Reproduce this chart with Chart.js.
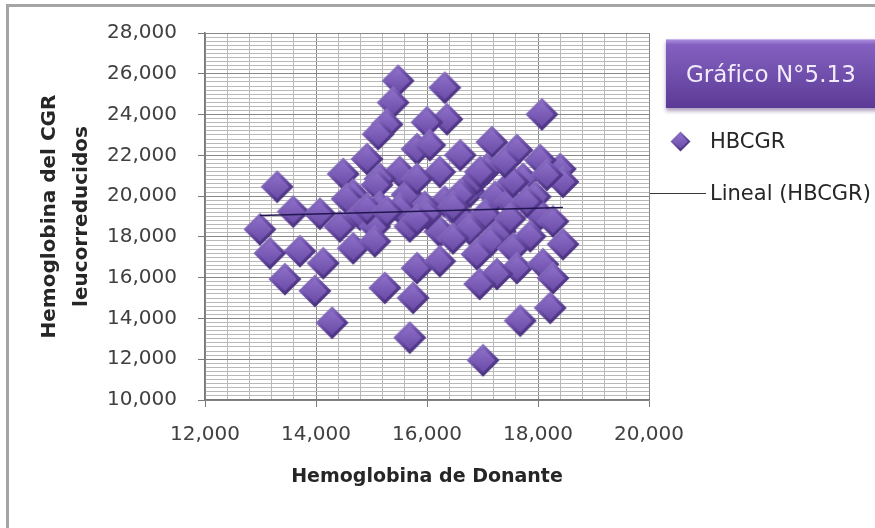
<!DOCTYPE html>
<html lang="es">
<head>
<meta charset="utf-8">
<title>Gráfico N°5.13</title>
<script src="https://cdn.jsdelivr.net/npm/chart.js@4.4.1/dist/chart.umd.min.js"></script>
<style>
  html, body { margin: 0; padding: 0; background: #fff; }
  #wrap { position: relative; width: 875px; height: 528px; overflow: hidden; font-family: "DejaVu Sans", sans-serif; }
  #marco { position: absolute; left: 6px; top: 4px; width: 920px; height: 620px; border: 3px solid #a5a5a5; }
  #grafico { position: absolute; left: 0; top: 0; }
  .titulo {
    position: absolute; left: 666px; top: 39px; width: 240px; height: 69px; box-sizing: border-box;
    padding-left: 20px; line-height: 68px; font-size: 23px; color: #f2ebfb;
    background: linear-gradient(#a88bdc 0, #8460c0 7%, #7150ad 50%, #5c3995 100%);
    border-top: 1px solid #c7b2ea; box-shadow: 0 3px 4px rgba(70, 40, 110, .45);
  }
  .item { position: absolute; font-size: 21px; color: #262626; white-space: nowrap; line-height: 24px; }
  .raya { position: absolute; height: 0; border-top: 1.5px solid #3a3a3a; }
</style>
</head>
<body>
<div id="wrap">
  <div id="marco"></div>
  <canvas id="grafico" width="875" height="528"></canvas>
  <div class="titulo">Gráfico N°5.13</div>
  <div id="leyenda"></div>
</div>
<script>
// === Datos: hemoglobina de donante vs. hemoglobina del CGR leucorreducido ===
const hbDonante = [
  15480, 15390, 16320, 18070, 16360, 16000, 15280, 15120, 15820, 17170,
  17620, 16600, 14920, 16050, 14490, 15510, 16230, 17080, 18400, 18040,
  15150, 17730, 14670, 15100, 15640, 13300, 18450, 16770, 17230, 17500,
  16320, 15960, 17950, 15150, 15510, 13590, 14070, 14560, 14790, 16600,
  17050, 18040, 18270, 12990, 14430, 15060, 15690, 16230, 16770, 17320,
  17860, 16000, 16470, 17140, 17550, 18450, 14670, 15060, 13710, 13170,
  16900, 14130, 15820, 16230, 17620, 18090, 17260, 13440, 16950, 18270,
  15240, 13980, 15750, 18220, 17680, 14290, 15690, 17010, 16600, 16900,
  17550, 17800, 18160, 15820, 15820, 16470, 17500, 16960, 17400, 14920,
  15280
];
const hbCgr = [
  25660, 24590, 25320, 24010, 23770, 23620, 23520, 23040, 22310, 22650,
  22260, 22010, 21820, 22500, 21090, 21190, 21190, 21330, 21330, 21770,
  20850, 20850, 20070, 20550, 20070, 20460, 20700, 20210, 19970, 19730,
  19730, 19480, 19970, 19480, 19390, 19240, 19140, 19870, 19100, 19000,
  19100, 19100, 18760, 18370, 18510, 18510, 18510, 18270, 18370, 18270,
  18030, 19140, 17930, 17780, 17440, 17640, 17440, 17780, 17300, 17200,
  17150, 16710, 16470, 16810, 16470, 16660, 16180, 15930, 15690, 15980,
  15500, 15350, 15010, 14520, 13890, 13790, 13060, 11950, 20070, 20850,
  20700, 19730, 21040, 18850, 20850, 19480, 18900, 21190, 21670, 19390,
  19240
];

// Línea de tendencia lineal (extremos)
const trendX = [12990, 18450];
const trendY = [19050, 19440];

// Etiquetas de los ejes
const xTicks = [12000, 14000, 16000, 18000, 20000];
const yTicks = [10000, 12000, 14000, 16000, 18000, 20000, 22000, 24000, 26000, 28000];

const FONT = "'DejaVu Sans', sans-serif";
const fmt = (v) => v.toLocaleString("en-US");

// Marcador rombo con bisel (estilo Excel)
function rombo(size) {
  const c = document.createElement("canvas");
  c.width = c.height = size;
  const g = c.getContext("2d");
  const h = size / 2;
  const path = (r) => {
    g.beginPath();
    g.moveTo(h, h - r); g.lineTo(h + r, h); g.lineTo(h, h + r); g.lineTo(h - r, h);
    g.closePath();
  };
  path(h - 0.5);
  let grad = g.createLinearGradient(0, 0, size * 0.7, size);
  grad.addColorStop(0, "#a993dc");
  grad.addColorStop(0.5, "#6d4fa9");
  grad.addColorStop(1, "#3e2772");
  g.fillStyle = grad;
  g.fill();
  path(h * 0.7);
  grad = g.createLinearGradient(0, size * 0.2, 0, size * 0.8);
  grad.addColorStop(0, "#8b6dc7");
  grad.addColorStop(1, "#6d4eaa");
  g.fillStyle = grad;
  g.fill();
  return c;
}

const marcador = rombo(34);
const gridColor = (list) => (c) => c.tick && list.includes(c.tick.value) ? "#888888" : "#b9b9b9";
const tickColor = (list) => (c) => c.tick && list.includes(c.tick.value) ? "#7a7a7a" : "rgba(0,0,0,0)";

const chart = new Chart(document.getElementById("grafico"), {
  type: "scatter",
  data: {
    datasets: [
      {
        label: "HBCGR",
        data: hbDonante.map((x, i) => ({ x, y: hbCgr[i] })),
        pointStyle: marcador,
        pointRadius: 17,
        order: 1,
      },
      {
        label: "Lineal (HBCGR)",
        data: trendX.map((x, i) => ({ x, y: trendY[i] })),
        showLine: true,
        borderColor: "#22164f",
        borderWidth: 1.6,
        pointRadius: 0,
        order: 0,
      },
    ],
  },
  options: {
    responsive: false,
    animation: false,
    layout: { padding: { left: 0, top: 30, right: 226, bottom: 0 } },
    plugins: { legend: { display: false }, tooltip: { enabled: false } },
    scales: {
      x: {
        type: "linear",
        min: 12000,
        max: 20000,
        afterFit: (s) => { s.height = 128; },
        ticks: {
          stepSize: 400, autoSkip: false, maxRotation: 0, padding: 16,
          color: "#404040", font: { family: FONT, size: 20 },
          callback: (v) => (xTicks.includes(v) ? fmt(v) : ""),
        },
        grid: { color: gridColor(xTicks), tickLength: 7, tickColor: tickColor(xTicks) },
        border: { color: "#7a7a7a", width: 1.5 },
        title: {
          display: true, text: "Hemoglobina de Donante", color: "#262626",
          font: { family: FONT, size: 19, weight: "bold" },
          padding: { top: 0, bottom: 40 },
        },
      },
      y: {
        type: "linear",
        min: 10000,
        max: 28000,
        afterFit: (s) => { s.width = 205; },
        ticks: {
          stepSize: 200, autoSkip: false, padding: 21,
          color: "#404040", font: { family: FONT, size: 20 },
          callback: (v) => (yTicks.includes(v) ? fmt(v) : ""),
        },
        grid: { color: gridColor(yTicks), tickLength: 7, tickColor: tickColor(yTicks) },
        border: { color: "#7a7a7a", width: 1.5 },
        title: {
          display: true, text: ["Hemoglobina del CGR", "leucorreducidos"], color: "#262626",
          font: { family: FONT, size: 20, weight: "bold", lineHeight: 1.6 },
          padding: { top: 34, bottom: 0 },
        },
      },
    },
  },
});

// === Leyenda (HTML) ===
const leyenda = document.getElementById("leyenda");
const [serie, tendencia] = chart.data.datasets;

const icono = rombo(21);
icono.style.cssText = "position:absolute;left:670px;top:131px;";
leyenda.appendChild(icono);

const t1 = document.createElement("div");
t1.className = "item";
t1.style.cssText = "left:710px;top:129px;";
t1.textContent = serie.label;
leyenda.appendChild(t1);

const raya = document.createElement("div");
raya.className = "raya";
raya.style.cssText = "left:650px;top:193px;width:56px;";
leyenda.appendChild(raya);

const t2 = document.createElement("div");
t2.className = "item";
t2.style.cssText = "left:710px;top:181px;";
t2.textContent = tendencia.label;
leyenda.appendChild(t2);
</script>
</body>
</html>
